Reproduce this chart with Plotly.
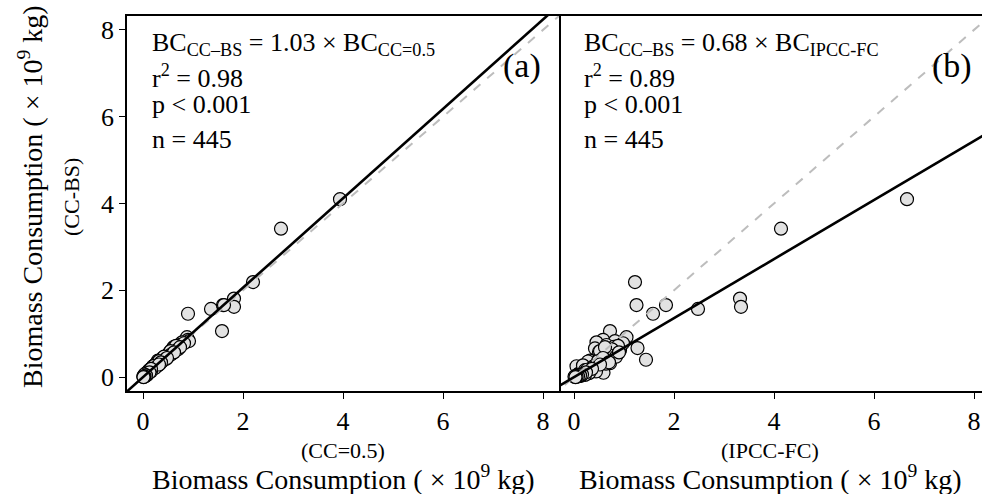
import plotly.graph_objects as go

# CC-BS biomass consumption (y, shared), CC=0.5 (panel a x), IPCC-FC (panel b x)
bc_ccbs = [4.10, 3.42, 2.19, 1.81, 1.62, 1.57, 1.66, 1.66, 1.46, 1.06,
           0.92, 0.86, 0.83, 0.80, 0.74, 0.70, 0.67, 0.66, 0.62, 0.55,
           0.50, 0.45, 0.40, 0.38, 0.35, 0.32, 0.30, 0.28, 0.25, 0.22,
           0.20, 0.18, 0.15, 0.12, 0.10, 0.08, 0.06, 0.05, 0.04, 0.03,
           0.02, 0.01, 0.58, 0.48, 0.36, 0.27, 0.16, 0.24, 0.33, 0.43,
           0.78, 0.72, 0.64, 0.60, 0.52, 0.47, 0.42, 0.37, 0.31, 0.26,
           0.21, 0.17, 0.13, 0.09, 0.07, 0.05, 0.03, 0.02, 0.69, 0.57,
           0.44, 0.34, 0.29, 0.19, 0.11, 0.06, 0.04, 0.02, 0.01, 0.00]
bc_cc05 = [3.94, 2.76, 2.20, 1.82, 1.82, 1.36, 1.60, 1.62, 0.90, 1.58,
           0.88, 0.90, 0.92, 0.78, 0.72, 0.62, 0.60, 0.68, 0.58, 0.52,
           0.48, 0.40, 0.38, 0.30, 0.35, 0.28, 0.26, 0.24, 0.20, 0.22,
           0.18, 0.15, 0.14, 0.10, 0.08, 0.07, 0.05, 0.04, 0.03, 0.02,
           0.01, 0.01, 0.54, 0.46, 0.38, 0.30, 0.12, 0.20, 0.30, 0.45,
           0.82, 0.66, 0.70, 0.55, 0.56, 0.42, 0.46, 0.32, 0.34, 0.22,
           0.24, 0.14, 0.16, 0.06, 0.09, 0.08, 0.05, 0.04, 0.74, 0.62,
           0.48, 0.36, 0.32, 0.16, 0.13, 0.03, 0.06, 0.03, 0.02, 0.01]
bc_ipcc = [6.66, 4.14, 1.22, 3.32, 3.34, 2.48, 1.84, 1.25, 1.58, 0.72,
           1.05, 0.58, 0.82, 0.45, 0.65, 0.80, 1.27, 0.42, 0.92, 0.70,
           0.62, 0.55, 1.44, 0.32, 0.50, 0.72, 0.40, 0.35, 0.05, 0.45,
           0.25, 0.30, 0.20, 0.15, 0.59, 0.10, 0.12, 0.08, 0.06, 0.04,
           0.02, 0.01, 0.50, 0.66, 0.28, 0.18, 0.22, 0.38, 0.55, 0.75,
           0.98, 0.88, 0.76, 0.52, 0.68, 0.84, 0.60, 0.48, 0.64, 0.42,
           0.36, 0.26, 0.44, 0.30, 0.18, 0.22, 0.14, 0.10, 0.62, 0.90,
           0.58, 0.70, 0.52, 0.36, 0.24, 0.16, 0.12, 0.08, 0.05, 0.03]

slope_a = 1.03
slope_b = 0.68
line_x = [-1, 10]

tick_vals = [0, 2, 4, 6, 8]
tick_text = ["0", "2", "4", "6", "8"]

SERIF = "Liberation Serif, Times New Roman, serif"
W, H = 982, 494
L, T, B = 127, 16, 103
PW = W - L
PH = H - T - B
split = (559 - L) / PW

def px(x):
    return (x - L) / PW

def py(y):
    return (H - B - y) / PH

fig = go.Figure()

marker = dict(size=13, color="#e2e2e2", line=dict(color="black", width=1.2))

fig.add_trace(go.Scatter(x=bc_cc05, y=bc_ccbs, mode="markers", marker=marker,
                         xaxis="x", yaxis="y", showlegend=False))
fig.add_trace(go.Scatter(x=bc_ipcc, y=bc_ccbs, mode="markers", marker=marker,
                         xaxis="x2", yaxis="y2", showlegend=False))

for xa, ya, s in [("x", "y", slope_a), ("x2", "y2", slope_b)]:
    fig.add_trace(go.Scatter(x=line_x, y=line_x, mode="lines",
                             line=dict(color="#bdbdbd", width=2, dash="dash"),
                             xaxis=xa, yaxis=ya, showlegend=False))
    fig.add_trace(go.Scatter(x=line_x, y=[s * v for v in line_x], mode="lines",
                             line=dict(color="black", width=2.6),
                             xaxis=xa, yaxis=ya, showlegend=False))

axis_common = dict(showgrid=False, zeroline=False, linecolor="black",
                   linewidth=1.5, ticklen=6, tickwidth=1.2,
                   tickcolor="black", tickvals=tick_vals, ticktext=tick_text,
                   tickfont=dict(family=SERIF, size=26, color="black"))

fig.update_layout(
    width=W, height=H,
    margin=dict(l=L, r=0, t=T, b=B),
    paper_bgcolor="white", plot_bgcolor="white",
    xaxis=dict(domain=[0, split], range=[-0.32, 8.32], mirror=True, anchor="y",
               showline=True, ticks="outside", **axis_common),
    yaxis=dict(domain=[0, 1], range=[-0.32, 8.32], mirror=True, anchor="x",
               showline=True, ticks="outside", **axis_common),
    xaxis2=dict(domain=[split, 1], range=[-0.3, 8.16], mirror=True, anchor="y2",
                showline=True, ticks="outside", **axis_common),
    yaxis2=dict(domain=[0, 1], range=[-0.32, 8.32], anchor="x2", showline=False,
                showticklabels=False, ticks="", **axis_common),
)

ann = []
def text(x, y, s, size, xanchor="left"):
    ann.append(dict(x=px(x), y=py(y), xref="paper", yref="paper", text=s, showarrow=False,
                    xanchor=xanchor, yanchor="middle",
                    font=dict(family=SERIF, size=size, color="black")))

# panel a stats
text(150, 44, "BC<sub>CC–BS</sub> = 1.03 × BC<sub>CC=0.5</sub>", 26)
text(150, 76, "r<sup>2</sup> = 0.98", 26)
text(150, 104, "p &lt; 0.001", 26)
text(150, 139, "n = 445", 26)
text(543, 66, "(a)", 34, "right")
# panel b stats
text(582, 44, "BC<sub>CC–BS</sub> = 0.68 × BC<sub>IPCC-FC</sub>", 26)
text(582, 76, "r<sup>2</sup> = 0.89", 26)
text(582, 104, "p &lt; 0.001", 26)
text(582, 139, "n = 445", 26)
text(974, 66, "(b)", 34, "right")

# x axis titles
text(343, 450, "(CC=0.5)", 22, "center")
text(343, 477, "Biomass Consumption ( × 10<sup>9</sup> kg)", 28, "center")
text(770, 450, "(IPCC-FC)", 22, "center")
text(770, 477, "Biomass Consumption ( × 10<sup>9</sup> kg)", 28, "center")

# y axis titles
for x, s, size in [(30, "Biomass Consumption ( × 10<sup>9</sup> kg)", 28), (71, "(CC-BS)", 22)]:
    ann.append(dict(x=px(x), y=py(197), xref="paper", yref="paper", text=s, showarrow=False,
                    textangle=-90, xanchor="center", yanchor="middle",
                    font=dict(family=SERIF, size=size, color="black")))

fig.update_layout(annotations=ann)
fig.write_html("out.html")
